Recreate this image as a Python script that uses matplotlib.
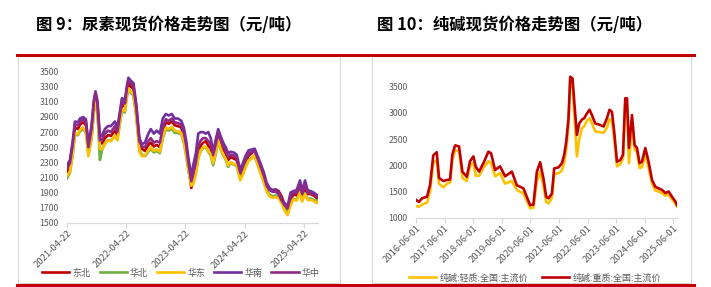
import matplotlib
matplotlib.use('Agg')
import matplotlib.pyplot as plt
import matplotlib.dates as mdates
from matplotlib.lines import Line2D
from matplotlib.patches import Rectangle
import pandas as pd

plt.rcParams['font.family'] = ['Noto Sans CJK SC', 'DejaVu Sans']

# ── Urea spot prices (元/吨) ──────────────────────────────────────────────────
U_DATES = [
    '2021-04-22', '2021-05-10', '2021-05-26', '2021-06-10', '2021-06-29', '2021-07-11', '2021-07-30', '2021-08-17', '2021-09-01', '2021-09-20',
    '2021-10-05', '2021-10-15', '2021-10-27', '2021-11-11', '2021-11-24', '2021-12-12', '2021-12-31', '2022-01-18', '2022-02-12', '2022-02-27',
    '2022-03-15', '2022-03-27', '2022-04-14', '2022-04-27', '2022-05-06', '2022-05-21', '2022-06-06', '2022-06-24', '2022-07-13', '2022-07-28',
    '2022-08-16', '2022-09-06', '2022-09-21', '2022-10-10', '2022-10-28', '2022-11-16', '2022-12-04', '2022-12-23', '2023-01-10', '2023-01-29',
    '2023-02-16', '2023-03-07', '2023-03-28', '2023-04-13', '2023-04-28', '2023-05-11', '2023-05-29', '2023-06-10', '2023-06-26', '2023-07-11',
    '2023-07-26', '2023-08-11', '2023-08-26', '2023-09-11', '2023-09-26', '2023-10-11', '2023-10-27', '2023-11-11', '2023-11-27', '2023-12-12',
    '2023-12-27', '2024-01-12', '2024-01-27', '2024-02-15', '2024-03-04', '2024-03-26', '2024-04-10', '2024-04-29', '2024-05-17', '2024-06-05',
    '2024-06-23', '2024-07-12', '2024-07-30', '2024-08-18', '2024-09-05', '2024-09-23', '2024-10-12', '2024-10-30', '2024-11-18', '2024-12-06',
    '2024-12-25', '2025-01-12', '2025-01-31', '2025-02-18', '2025-03-09', '2025-03-30', '2025-04-12', '2025-04-30', '2025-05-16', '2025-06-03',
    '2025-06-22', '2025-07-10', '2025-07-19',
]
DONGBEI = [
    2170, 2250, 2480, 2760, 2740, 2800, 2830, 2790, 2480, 2700,
    3050, 3180, 3050, 2560, 2550, 2620, 2660, 2650, 2720, 2660,
    2900, 3060, 3040, 3250, 3340, 3300, 3270, 2980, 2540, 2480,
    2450, 2530, 2560, 2510, 2530, 2500, 2700, 2830, 2810, 2840,
    2790, 2780, 2760, 2650, 2470, 2260, 1960, 2050, 2200, 2420,
    2520, 2560, 2580, 2520, 2480, 2350, 2500, 2660, 2550, 2470,
    2420, 2330, 2370, 2350, 2330, 2120, 2200, 2310, 2390, 2420,
    2470, 2330, 2220, 2110, 1980, 1940, 1930, 1940, 1920, 1850,
    1740, 1680, 1800, 1880, 1860, 1980, 1850, 1960, 1880, 1880,
    1860, 1830, 1810,
]
HUABEI = [
    2090, 2160, 2380, 2660, 2660, 2710, 2740, 2690, 2400, 2600,
    2960, 3100, 2970, 2330, 2460, 2560, 2590, 2590, 2650, 2600,
    2820, 2980, 2960, 3170, 3260, 3220, 3180, 2900, 2460, 2400,
    2380, 2440, 2480, 2430, 2450, 2420, 2620, 2740, 2720, 2740,
    2690, 2690, 2670, 2560, 2380, 2190, 2010, 2030, 2160, 2360,
    2450, 2490, 2500, 2440, 2390, 2260, 2410, 2580, 2470, 2390,
    2340, 2240, 2290, 2270, 2250, 2080, 2140, 2250, 2330, 2360,
    2380, 2270, 2160, 2050, 1930, 1870, 1850, 1860, 1840, 1780,
    1690, 1630, 1750, 1820, 1800, 1910, 1800, 1890, 1810, 1820,
    1800, 1790, 1800,
]
HUADONG = [
    2120, 2180, 2400, 2690, 2670, 2730, 2760, 2700, 2380, 2620,
    2980, 3120, 2980, 2480, 2470, 2540, 2590, 2580, 2650, 2590,
    2830, 3000, 2980, 3190, 3280, 3240, 3200, 2900, 2440, 2380,
    2390, 2460, 2500, 2450, 2470, 2440, 2640, 2760, 2740, 2770,
    2720, 2710, 2690, 2580, 2400, 2200, 1990, 2010, 2140, 2350,
    2460, 2500, 2510, 2450, 2410, 2290, 2430, 2600, 2480, 2400,
    2350, 2260, 2300, 2280, 2260, 2060, 2130, 2240, 2320, 2350,
    2400, 2260, 2150, 2040, 1910, 1850, 1830, 1840, 1820, 1760,
    1660, 1600, 1730, 1810, 1790, 1900, 1780, 1880, 1800, 1800,
    1790, 1760, 1780,
]
HUANAN = [
    2260, 2330, 2560, 2840, 2830, 2880, 2900, 2870, 2540, 2780,
    3130, 3240, 3110, 2640, 2660, 2740, 2780, 2780, 2840, 2760,
    2980, 3150, 3120, 3320, 3420, 3380, 3350, 3060, 2620, 2540,
    2560, 2680, 2740, 2680, 2720, 2680, 2880, 2940, 2920, 2940,
    2880, 2880, 2850, 2760, 2580, 2360, 2120, 2260, 2420, 2680,
    2700, 2700, 2680, 2700, 2620, 2440, 2600, 2740, 2640, 2560,
    2500, 2420, 2440, 2430, 2400, 2200, 2280, 2390, 2460, 2470,
    2480, 2380, 2280, 2170, 2030, 1960, 1930, 1940, 1900, 1800,
    1760, 1720, 1900, 1920, 1930, 2060, 1920, 2060, 1930, 1920,
    1900, 1870, 1860,
]
HUAZHONG = [
    2220, 2290, 2520, 2800, 2790, 2840, 2870, 2830, 2500, 2740,
    3100, 3220, 3080, 2590, 2600, 2680, 2720, 2700, 2780, 2700,
    2940, 3110, 3080, 3290, 3380, 3340, 3310, 3020, 2580, 2510,
    2500, 2580, 2620, 2560, 2580, 2560, 2760, 2870, 2850, 2880,
    2830, 2820, 2800, 2700, 2520, 2300, 2050, 2150, 2300, 2520,
    2590, 2620, 2620, 2580, 2540, 2400, 2540, 2690, 2590, 2510,
    2450, 2370, 2400, 2390, 2360, 2160, 2240, 2350, 2420, 2440,
    2450, 2350, 2240, 2130, 1990, 1930, 1910, 1910, 1880, 1800,
    1730, 1690, 1850, 1900, 1890, 2010, 1880, 2000, 1900, 1890,
    1880, 1850, 1840,
]
U_NAMES = ['东北', '华北', '华东', '华南', '华中']
U_TICKS = ['2021-04-22', '2022-04-22', '2023-04-22', '2024-04-22', '2025-04-22']

# ── Soda ash spot prices (元/吨) ──────────────────────────────────────────────
S_DATES = [
    '2016-06-01', '2016-07-09', '2016-08-17', '2016-10-20', '2016-11-27', '2017-01-08', '2017-02-21', '2017-03-22', '2017-05-16', '2017-07-02',
    '2017-08-10', '2017-09-08', '2017-10-13', '2017-12-03', '2018-01-14', '2018-03-11', '2018-04-23', '2018-06-04', '2018-07-05', '2018-08-16',
    '2018-10-10', '2018-12-13', '2019-01-16', '2019-03-08', '2019-05-11', '2019-07-14', '2019-10-08', '2019-12-11', '2020-03-04', '2020-05-29',
    '2020-07-10', '2020-08-23', '2020-10-04', '2020-11-15', '2020-12-20', '2021-01-18', '2021-03-03', '2021-04-01', '2021-05-26', '2021-07-09',
    '2021-08-07', '2021-09-02', '2021-10-01', '2021-10-23', '2021-11-21', '2021-12-17', '2022-01-16', '2022-02-15', '2022-03-21', '2022-04-20',
    '2022-05-24', '2022-06-27', '2022-07-27', '2022-09-07', '2022-11-10', '2022-12-23', '2023-02-04', '2023-03-09', '2023-04-09', '2023-05-08',
    '2023-06-12', '2023-07-24', '2023-08-28', '2023-09-26', '2023-10-18', '2023-11-12', '2023-12-21', '2024-01-23', '2024-02-23', '2024-03-27',
    '2024-04-27', '2024-06-08', '2024-07-20', '2024-09-02', '2024-10-14', '2024-11-25', '2025-01-08', '2025-02-19', '2025-04-02', '2025-05-15',
    '2025-06-27', '2025-07-18',
]
HEAVY = [
    1340, 1300, 1370, 1400, 1620, 2190, 2250, 1760, 1700, 1720,
    1730, 2200, 2380, 2360, 1880, 1780, 2080, 2170, 1970, 1880,
    2040, 2260, 2230, 1910, 1980, 1790, 1880, 1620, 1560, 1240,
    1250, 1880, 2060, 1750, 1400, 1370, 1460, 1940, 1960, 2040,
    2200, 2450, 2900, 3690, 3660, 3150, 2580, 2800, 2870, 2900,
    2990, 3060, 2960, 2800, 2770, 2740, 2900, 3060, 3020, 2640,
    2070, 2100, 2200, 3280, 3280, 2330, 2960, 2390, 2330, 2040,
    2070, 2330, 2070, 1720, 1590, 1560, 1530, 1470, 1500, 1400,
    1310, 1240,
]
LIGHT = [
    1220, 1210, 1250, 1290, 1500, 2050, 2100, 1650, 1580, 1650,
    1670, 2100, 2280, 2270, 1760, 1700, 1990, 2050, 1800, 1800,
    1950, 2080, 2040, 1790, 1850, 1650, 1700, 1530, 1460, 1180,
    1190, 1700, 1880, 1600, 1300, 1270, 1380, 1830, 1850, 1900,
    2050, 2300, 2750, 3600, 3550, 2900, 2170, 2500, 2700, 2750,
    2850, 2900, 2800, 2650, 2630, 2620, 2720, 2880, 2850, 2500,
    1980, 2020, 2130, 3200, 3150, 2040, 2800, 2300, 2250, 1950,
    1960, 2220, 1950, 1650, 1520, 1500, 1470, 1420, 1440, 1350,
    1270, 1210,
]
S_NAMES = ['纯碱:轻质:全国:主流价', '纯碱:重质:全国:主流价']
S_TICKS = ['2016-06-01', '2017-06-01', '2018-06-01', '2019-06-01', '2020-06-01',
           '2021-06-01', '2022-06-01', '2023-06-01', '2024-06-01', '2025-06-01']

# ── Colors ────────────────────────────────────────────────────────────────────
C_RED     = '#C00000'
C_GREEN   = '#70AD47'
C_YELLOW  = '#FFC000'
C_PURPLE  = '#7030A0'
C_MAGENTA = '#8E2A85'
C_TEXT    = '#595959'
C_AXIS    = '#D9D9D9'
C_BAR     = '#C00000'

W, H = 711, 287

def fx(px):
    return px / W

def fy(py):
    return 1 - py / H

fig = plt.figure(figsize=(W / 100, H / 100), dpi=100, facecolor='white')

# panel frames and red rules
for x0, x1 in [(18, 340), (372, 691)]:
    fig.add_artist(Rectangle((fx(x0), fy(283)), fx(x1) - fx(x0), fy(56) - fy(283),
                             transform=fig.transFigure, fill=False,
                             edgecolor=C_AXIS, linewidth=0.8))
for y in [55, 284.5]:
    fig.add_artist(Line2D([fx(17), fx(694)], [fy(y), fy(y)], transform=fig.transFigure,
                          color=C_BAR, linewidth=2.2))

fig.text(fx(36), fy(25), '图 9：尿素现货价格走势图（元/吨）', fontsize=11.8,
         fontweight='bold', va='center', ha='left', color='black')
fig.text(fx(377), fy(25), '图 10：纯碱现货价格走势图（元/吨）', fontsize=11.8,
         fontweight='bold', va='center', ha='left', color='black')


def style_axis(ax):
    for s in ['left', 'right', 'top']:
        ax.spines[s].set_visible(False)
    ax.spines['bottom'].set_color(C_AXIS)
    ax.spines['bottom'].set_linewidth(0.9)
    ax.tick_params(axis='y', length=0, labelsize=6.3, labelcolor=C_TEXT, pad=6)
    ax.tick_params(axis='x', length=3.5, color=C_AXIS, labelsize=6.8,
                   labelcolor=C_TEXT, pad=1)
    ax.set_facecolor('none')
    for lab in ax.get_xticklabels():
        lab.set_rotation(45)
        lab.set_ha('right')
        lab.set_va('top')
        lab.set_rotation_mode('anchor')


# ── Urea panel ────────────────────────────────────────────────────────────────
ax1 = fig.add_axes([fx(67), fy(222.7), fx(318) - fx(67), fy(71.7) - fy(222.7)])
ud = pd.to_datetime(U_DATES)
u_series = [DONGBEI, HUABEI, HUADONG, HUANAN, HUAZHONG]
u_colors = [C_RED, C_GREEN, C_YELLOW, C_PURPLE, C_MAGENTA]
u_lines = []
for vals, col, name in zip(u_series, u_colors, U_NAMES):
    ln, = ax1.plot(ud, vals, color=col, linewidth=1.9, label=name)
    u_lines.append(ln)
ax1.set_ylim(1500, 3500)
ax1.set_yticks(range(1500, 3501, 200))
ax1.set_xlim(ud[0], ud[-1])
ax1.set_xticks(pd.to_datetime(U_TICKS))
ax1.xaxis.set_major_formatter(mdates.DateFormatter('%Y-%m-%d'))
style_axis(ax1)

fig.legend(handles=u_lines, loc='center', bbox_to_anchor=(fx(181), fy(273)),
           ncol=5, frameon=False, fontsize=6.5, labelcolor=C_TEXT,
           handlelength=3.0, handletextpad=0.35, columnspacing=1.0,
           borderaxespad=0, borderpad=0)

# ── Soda ash panel ────────────────────────────────────────────────────────────
ax2 = fig.add_axes([fx(416), fy(217.7), fx(677) - fx(416), fy(71) - fy(217.7)])
sd = pd.to_datetime(S_DATES)
s_lines = []
ln, = ax2.plot(sd, LIGHT, color=C_YELLOW, linewidth=1.9, label=S_NAMES[0])
s_lines.append(ln)
ln, = ax2.plot(sd, HEAVY, color=C_RED, linewidth=1.9, label=S_NAMES[1])
s_lines.append(ln)
ax2.set_ylim(1000, 3800)
ax2.set_yticks(range(1000, 3501, 500))
ax2.set_xlim(sd[0], sd[-1])
ax2.set_xticks(pd.to_datetime(S_TICKS))
ax2.xaxis.set_major_formatter(mdates.DateFormatter('%Y-%m-%d'))
style_axis(ax2)

fig.legend(handles=s_lines, loc='center', bbox_to_anchor=(fx(535), fy(278)),
           ncol=2, frameon=False, fontsize=6.5, labelcolor=C_TEXT,
           handlelength=3.0, handletextpad=0.35, columnspacing=1.6,
           borderaxespad=0, borderpad=0)

fig.savefig('out.png', dpi=100, facecolor='white')
